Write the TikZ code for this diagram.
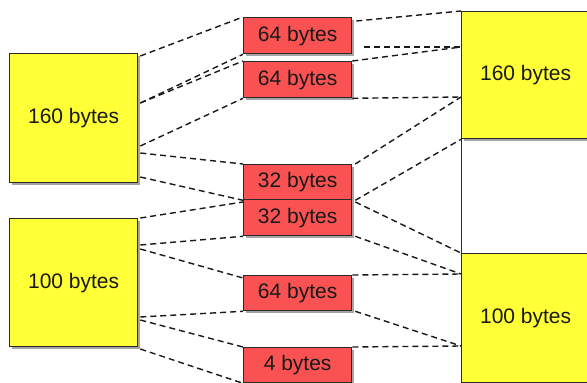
\documentclass[tikz,border=0pt]{standalone}
\usepackage{fontspec}
\setmainfont{Liberation Sans}
\usetikzlibrary{calc,shadows}
\definecolor{boxyellow}{HTML}{FFFF38}
\definecolor{boxred}{HTML}{FA5252}
\definecolor{edge}{HTML}{2A2A2A}
\tikzset{
  mem/.style={draw=edge, line width=1.3pt, inner sep=0pt, anchor=north west,
    font=\fontsize{21}{24}\selectfont, text=black!90,
    drop shadow={shadow xshift=2.5pt, shadow yshift=-2.5pt, opacity=0.5, fill=black!70}},
  bigbox/.style={mem, fill=boxyellow, minimum width=128pt},
  redbox/.style={mem, fill=boxred, minimum width=108pt},
  emptybox/.style={draw=edge, line width=1.3pt, inner sep=0pt, anchor=north west, minimum width=128pt},
  link/.style={draw=black!90, line width=1.4pt, dash pattern=on 6pt off 4pt}
}
\begin{document}
\begin{tikzpicture}[x=1pt,y=-1pt]
\useasboundingbox (0,0) rectangle (587,383);
% left blocks
\node[bigbox, minimum height=129pt] (L1) at (9,53) {160 bytes};
\node[bigbox, minimum height=128pt] (L2) at (9,218) {100 bytes};
% red pieces
\node[redbox, minimum height=36pt] (A) at (243,17) {64 bytes};
\node[redbox, minimum height=36pt] (B) at (243,61) {64 bytes};
\node[redbox, minimum height=35pt] (C) at (243,164) {32 bytes};
\node[redbox, minimum height=36pt] (D) at (243,199) {32 bytes};
\node[redbox, minimum height=35pt] (E) at (243,275) {64 bytes};
\node[redbox, minimum height=35pt] (F) at (243,347) {4 bytes};
% right blocks
\node[bigbox, minimum height=127pt] (R1) at (461,11) {160 bytes};
\node[emptybox, minimum height=115pt] (RW) at (461,138) {};
\node[bigbox, minimum height=129pt] (R2) at (461,253) {100 bytes};
% left connectors
\path[link] ($(L1.north east)+(2,3)$) -- (A.north west);
\path[link] ($(L1.north east)+(2,50)$) -- (A.south west);
\path[link] ($(L1.north east)+(2,50)$) -- (B.north west);
\path[link] ($(L1.north east)+(2,93)$) -- (B.south west);
\path[link] ($(L1.north east)+(2,100)$) -- (C.north west);
\path[link] ($(L1.north east)+(2,124)$) -- (C.south west);
\path[link] ($(L2.north east)+(2,0)$) -- ($(D.north west)+(0,3)$);
\path[link] ($(L2.north east)+(2,27)$) -- (D.south west);
\path[link] ($(L2.north east)+(2,31)$) -- ($(E.north west)+(0,3)$);
\path[link] ($(L2.north east)+(2,99)$) -- (E.south west);
\path[link] ($(L2.north east)+(2,102)$) -- (F.north west);
\path[link] ($(L2.north east)+(2,131)$) -- (F.south west);
% right connectors
\path[link] ($(A.north east)+(4,4)$) -- (R1.north west);
\path[link] ($(A.north east)+(12,30)$) -- ($(R1.north west)+(0,36)$);
\path[link] (B.north east) -- ($(R1.north west)+(0,36)$);
\path[link] (B.south east) -- ($(R1.north west)+(0,86)$);
\path[link] ($(C.north east)+(3,0)$) -- ($(R1.north west)+(0,86)$);
\path[link] ($(C.south east)+(3,0)$) -- (R1.south west);
\path[link] ($(D.north east)+(3,3)$) -- (R2.north west);
\path[link] ($(D.south east)+(3,0)$) -- ($(R2.north west)+(0,21)$);
\path[link] (E.north east) -- ($(R2.north west)+(0,21)$);
\path[link] ($(E.south east)+(3,0)$) -- ($(R2.north west)+(0,93)$);
\path[link] (F.north east) -- ($(R2.north west)+(0,93)$);
\path[link] (F.south east) -- (R2.south west);
\end{tikzpicture}
\end{document}
